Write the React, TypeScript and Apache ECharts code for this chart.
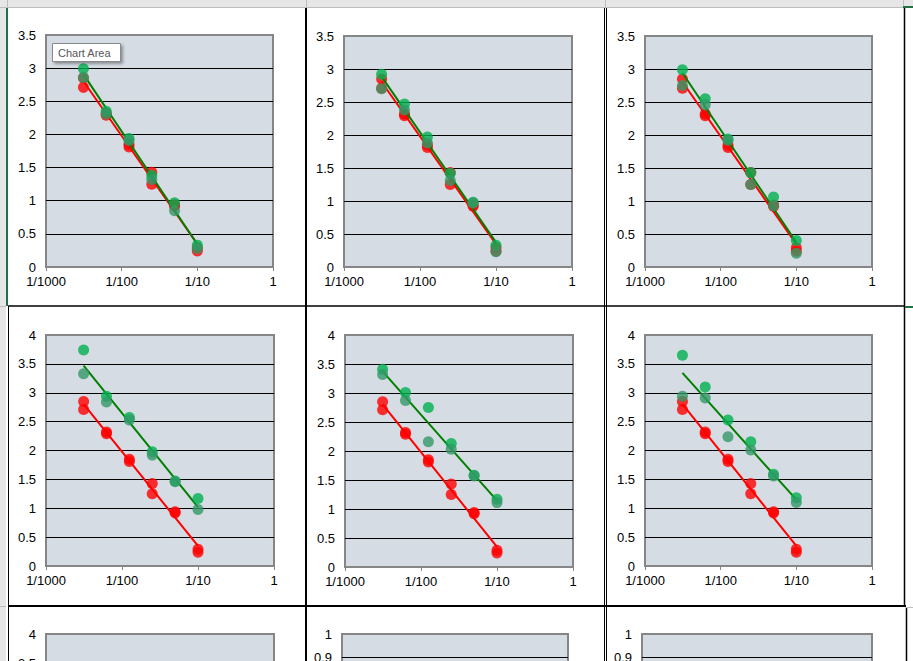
import React, { useEffect, useRef } from "react";
import * as echarts from "echarts";

// ---- data ----
const dilutions = [1 / 320, 1 / 160, 1 / 80, 1 / 40, 1 / 20, 1 / 10];
const xTicks = [0.001, 0.01, 0.1, 1];
const xTickLabels = ["1/1000", "1/100", "1/10", "1"];

// control (red) replicates, shared by all panels
const redA = [2.85, 2.32, 1.85, 1.43, 0.94, 0.29];
const redB = [2.71, 2.29, 1.81, 1.25, 0.92, 0.24];

// sample (green) replicates per panel
const greenA1 = [2.99, 2.35, 1.94, 1.38, 0.97, 0.33];
const greenB1 = [2.86, 2.31, 1.91, 1.32, 0.85, 0.28];
const greenA2 = [2.92, 2.47, 1.97, 1.42, 0.98, 0.33];
const greenB2 = [2.7, 2.38, 1.88, 1.31, 0.97, 0.23];
const greenA3 = [2.99, 2.55, 1.94, 1.43, 1.06, 0.4];
const greenB3 = [2.75, 2.46, 1.92, 1.25, 0.93, 0.21];
const greenA4 = [3.74, 2.94, 2.57, 1.98, 1.47, 1.17];
const greenB4 = [3.33, 2.84, 2.53, 1.92, 1.46, 0.98];
const greenA5 = [3.41, 3.01, 2.75, 2.13, 1.58, 1.17];
const greenB5 = [3.32, 2.87, 2.16, 2.03, 1.57, 1.11];
const greenA6 = [3.65, 3.1, 2.53, 2.15, 1.59, 1.18];
const greenB6 = [2.94, 2.91, 2.24, 2.01, 1.56, 1.1];

const yMaxes = [3.5, 3.5, 3.5, 4, 4, 4, 4, 1, 1];
const ySteps = [0.5, 0.5, 0.5, 0.5, 0.5, 0.5, 0.5, 0.1, 0.1];

// ---- layout / style ----
const boxes = [
  { left: 46, top: 35, width: 227, height: 232 },
  { left: 344, top: 36, width: 228, height: 231 },
  { left: 645, top: 36, width: 227, height: 231 },
  { left: 46, top: 335, width: 228, height: 231 },
  { left: 345, top: 335, width: 228, height: 232 },
  { left: 645, top: 335, width: 227, height: 231 },
  { left: 46, top: 634, width: 228, height: 232 },
  { left: 342, top: 634, width: 226, height: 230 },
  { left: 642, top: 634, width: 230, height: 230 },
];

const RED = "#FF0000";
const GREEN_A = "#00B050";
const GREEN_B = "#339966";
const GREEN_LINE = "#008000";
const FONT = "'Liberation Sans', Arial, sans-serif";
const CANVAS_H = 920;
const VIEW_H = 661;

function fitLine(xs: number[], ysList: number[][]) {
  const px: number[] = [];
  const py: number[] = [];
  ysList.forEach((ys) =>
    ys.forEach((y, i) => {
      px.push(Math.log10(xs[i]));
      py.push(y);
    })
  );
  const n = px.length;
  const mx = px.reduce((a, b) => a + b, 0) / n;
  const my = py.reduce((a, b) => a + b, 0) / n;
  let sxy = 0;
  let sxx = 0;
  for (let i = 0; i < n; i++) {
    sxy += (px[i] - mx) * (py[i] - my);
    sxx += (px[i] - mx) * (px[i] - mx);
  }
  const b = sxy / sxx;
  const a = my - b * mx;
  const x0 = xs[0];
  const x1 = xs[xs.length - 1];
  return [
    [x0, a + b * Math.log10(x0)],
    [x1, a + b * Math.log10(x1)],
  ];
}

const pts = (ys: number[]) => ys.map((y, i) => [dilutions[i], y]);

function buildOption() {
  const greens = [
    [greenA1, greenB1],
    [greenA2, greenB2],
    [greenA3, greenB3],
    [greenA4, greenB4],
    [greenA5, greenB5],
    [greenA6, greenB6],
  ];
  const grid: any[] = [];
  const xAxis: any[] = [];
  const yAxis: any[] = [];
  const series: any[] = [];
  boxes.forEach((b, k) => {
    const partial = b.top + b.height > VIEW_H;
    grid.push({
      ...b,
      show: true,
      backgroundColor: "#D6DCE4",
      borderColor: "#868686",
      borderWidth: 2,
      containLabel: false,
    });
    xAxis.push({
      type: "log",
      logBase: 10,
      gridIndex: k,
      min: 0.001,
      max: 1,
      axisLine: { show: false },
      axisTick: { show: !partial, length: 4, lineStyle: { color: "#868686", width: 1 } },
      splitLine: { show: false },
      axisLabel: {
        show: !partial,
        color: "#000",
        fontSize: 13,
        fontFamily: FONT,
        margin: 8,
        showMinLabel: true,
        showMaxLabel: true,
        formatter: (v: number) => {
          const i = xTicks.findIndex((t) => Math.abs(Math.log10(t) - Math.log10(v)) < 1e-6);
          return i >= 0 ? xTickLabels[i] : "";
        },
      },
    });
    // labels of a panel cut by the window edge: only those that reach into the view
    const pxPerUnit = b.height / yMaxes[k];
    yAxis.push({
      type: "value",
      gridIndex: k,
      min: 0,
      max: yMaxes[k],
      interval: ySteps[k],
      axisLine: { show: false },
      axisTick: { show: false },
      splitLine: {
        show: true,
        showMinLine: false,
        showMaxLine: false,
        lineStyle: { color: "#000", width: 1 },
      },
      axisLabel: {
        color: "#000",
        fontSize: 13,
        fontFamily: FONT,
        margin: 10,
        formatter: (v: number) => {
          const yPix = b.top + (yMaxes[k] - v) * pxPerUnit;
          return yPix - 6 < VIEW_H ? String(v) : "";
        },
      },
    });
    if (k < 6) {
      const [gA, gB] = greens[k];
      const common = { xAxisIndex: k, yAxisIndex: k, silent: true };
      series.push({
        ...common,
        type: "line",
        data: fitLine(dilutions, [redA, redB]),
        showSymbol: false,
        lineStyle: { color: RED, width: 2 },
        z: 2,
      });
      series.push({ ...common, type: "scatter", data: pts(redA), symbolSize: 11, itemStyle: { color: RED }, z: 3 });
      series.push({ ...common, type: "scatter", data: pts(redB), symbolSize: 11, itemStyle: { color: RED }, z: 3 });
      series.push({
        ...common,
        type: "line",
        data: fitLine(dilutions, [gA, gB]),
        showSymbol: false,
        lineStyle: { color: GREEN_LINE, width: 2 },
        z: 4,
      });
      series.push({ ...common, type: "scatter", data: pts(gA), symbolSize: 11, itemStyle: { color: GREEN_A }, z: 5 });
      series.push({ ...common, type: "scatter", data: pts(gB), symbolSize: 11, itemStyle: { color: GREEN_B }, z: 5 });
    }
  });

  const line = (x1: number, y1: number, x2: number, y2: number, stroke: string, lineWidth: number) => ({
    type: "line",
    silent: true,
    z: 50,
    shape: { x1, y1, x2, y2 },
    style: { stroke, lineWidth },
  });

  const B = CANVAS_H;
  const graphic: any[] = [
    // column header strip
    { type: "rect", silent: true, z: 40, shape: { x: 0, y: 0, width: 913, height: 7 }, style: { fill: "#E6E6E6" } },
    line(0, 7.5, 913, 7.5, "#BDBDBD", 1),
    line(7.5, 0, 7.5, 7, "#BDBDBD", 1),
    line(306.5, 0, 306.5, 7, "#BDBDBD", 1),
    line(605.5, 0, 605.5, 7, "#BDBDBD", 1),
    line(903.5, 0, 903.5, 7, "#BDBDBD", 1),
    { type: "text", silent: true, z: 41, x: 155, y: 2, style: { text: "A", fill: "#444", fontSize: 12, fontFamily: FONT, align: "center", verticalAlign: "bottom" } },
    { type: "text", silent: true, z: 41, x: 455, y: 2, style: { text: "B", fill: "#444", fontSize: 12, fontFamily: FONT, align: "center", verticalAlign: "bottom" } },
    { type: "text", silent: true, z: 41, x: 755, y: 2, style: { text: "C", fill: "#444", fontSize: 12, fontFamily: FONT, align: "center", verticalAlign: "bottom" } },
    // row header strip
    { type: "rect", silent: true, z: 40, shape: { x: 0, y: 8, width: 6, height: B }, style: { fill: "#E6E6E6" } },
    line(0, 306.5, 6, 306.5, "#BDBDBD", 1),
    line(0, 606.5, 6, 606.5, "#BDBDBD", 1),
    line(7, 8, 7, 306, "#217346", 2),
    line(8.5, 306, 8.5, B, "#000", 1),
    // cell / chart borders
    line(306, 8, 306, B, "#000", 2),
    line(604.5, 8, 604.5, B, "#000", 1),
    line(606.5, 8, 606.5, B, "#000", 1),
    line(904.5, 8, 904.5, 607, "#000", 1.5),
    line(906.5, 607, 906.5, B, "#000", 1.5),
    line(8, 306, 904, 306, "#000", 1.5),
    line(8, 606, 906, 606, "#000", 2),
    line(906, 607.5, 913, 607.5, "#BDBDBD", 1),
    line(903, 7, 913, 7, "#217346", 2),
    line(905, 307, 913, 307, "#217346", 2),
    // "Chart Area" hover tip
    {
      type: "rect",
      silent: true,
      z: 60,
      shape: { x: 52.5, y: 43.5, width: 68, height: 18 },
      style: {
        fill: "#FFFFFF",
        stroke: "#8A8A8A",
        lineWidth: 1,
        shadowBlur: 3,
        shadowOffsetX: 2,
        shadowOffsetY: 2,
        shadowColor: "rgba(0,0,0,0.35)",
      },
    },
    {
      type: "text",
      silent: true,
      z: 61,
      x: 58,
      y: 53,
      style: { text: "Chart Area", fill: "#575757", fontSize: 11, fontFamily: FONT, verticalAlign: "middle" },
    },
  ];

  return {
    animation: false,
    backgroundColor: "#FFFFFF",
    grid,
    xAxis,
    yAxis,
    series,
    graphic,
  };
}

export default function App() {
  const ref = useRef<HTMLDivElement>(null);
  useEffect(() => {
    if (!ref.current) return;
    const chart = echarts.init(ref.current, undefined, { renderer: "svg" });
    chart.setOption(buildOption() as any);
    return () => chart.dispose();
  }, []);
  return (
    <div style={{ position: "fixed", left: 0, top: 0, width: 913, height: VIEW_H, background: "#fff", overflow: "hidden" }}>
      <div ref={ref} style={{ width: 913, height: CANVAS_H }} />
    </div>
  );
}
